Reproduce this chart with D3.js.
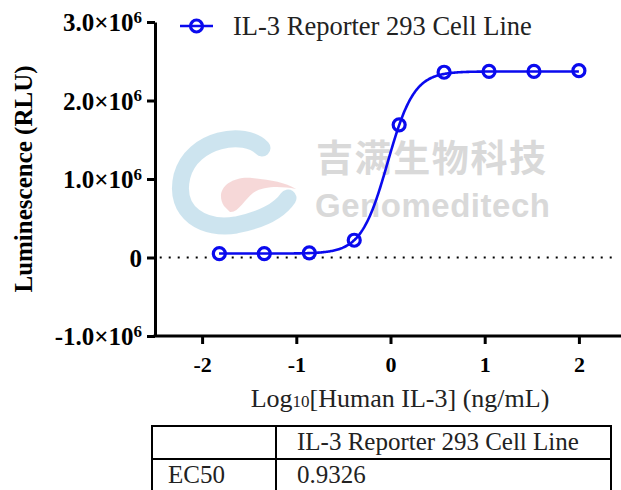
<!DOCTYPE html>
<html>
<head>
<meta charset="utf-8">
<script src="https://cdn.jsdelivr.net/npm/d3@7"></script>
<style>
  body { margin: 0; background: #fff; }
  svg { display: block; }
</style>
</head>
<body>
<div id="chart"></div>
<script>
// data (3-fold dilution series, log10 ng/mL)
var logConc = [-1.817, -1.340, -0.862, -0.385, 0.092, 0.569, 1.046, 1.523, 2.000];
var rlu = [0.05e6, 0.05e6, 0.06e6, 0.22e6, 1.69e6, 2.36e6, 2.37e6, 2.37e6, 2.38e6];
var seriesName = "IL-3 Reporter 293 Cell Line";

// 4PL fit parameters (EC50 from the table)
var fitBottom = 0.05e6;
var fitTop = 2.37e6;
var fitEC50 = 0.9326;
var fitHill = 3.1;

var xTicks = [-2, -1, 0, 1, 2];
var yTicks = [-1e6, 0, 1e6, 2e6, 3e6];
var yTickBase = ["-1.0×10", "0", "1.0×10", "2.0×10", "3.0×10"];

var tableHeader = ["", seriesName];
var tableRows = [["EC50", "0.9326"]];

var W = 621, H = 490;
var blue = "#0a0aee";
var serif = "Liberation Serif, Tinos, Times New Roman, Times, DejaVu Serif, serif";

var svg = d3.select("#chart").append("svg")
  .attr("width", W)
  .attr("height", H);

var x = d3.scaleLinear().domain([-2.5, 2.5]).range([155, 626]);
var y = d3.scaleLinear().domain([-1e6, 3e6]).range([336, 22]);

// watermark
var wm = svg.append("g").attr("opacity", 0.5);
wm.append("path")
  .attr("d", "M262,148 C245,130 192,138 182,176 C173,214 205,230 236,225 C262,220 280,210 288,198")
  .attr("fill", "none")
  .attr("stroke", "#9ccbe0")
  .attr("stroke-width", 17)
  .attr("stroke-linecap", "round");
wm.append("path")
  .attr("d", "M224,206 C214,190 230,176 252,178 C270,180 285,182 296,189 C280,186 263,186 253,193 C245,199 238,213 230,212 Z")
  .attr("fill", "#eeb3b3");
wm.append("text")
  .attr("x", 316).attr("y", 172)
  .attr("textLength", 230)
  .attr("font-family", "Noto Sans CJK SC, sans-serif")
  .attr("font-weight", "bold")
  .attr("font-size", 37)
  .attr("fill", "#b4b4b4")
  .text("吉满生物科技");
wm.append("text")
  .attr("x", 315).attr("y", 217)
  .attr("textLength", 235)
  .attr("font-family", "Liberation Sans, Arial, sans-serif")
  .attr("font-weight", "bold")
  .attr("font-size", 33)
  .attr("fill", "#b4b4b4")
  .text("Genomeditech");

// dotted zero line
svg.append("line")
  .attr("x1", x(-2.45)).attr("x2", x(2.4))
  .attr("y1", y(0)).attr("y2", y(0))
  .attr("stroke", "#000")
  .attr("stroke-width", 2.2)
  .attr("stroke-dasharray", "2,7");

// axes
var xAxis = svg.append("g")
  .attr("transform", "translate(0," + y(-1e6) + ")")
  .call(d3.axisBottom(x).tickValues(xTicks).tickSize(8).tickSizeOuter(0)
    .tickFormat(function(d) { return String(d); }));
var yAxis = svg.append("g")
  .attr("transform", "translate(" + x(-2.5) + ",0)")
  .call(d3.axisLeft(y).tickValues(yTicks).tickSize(8).tickSizeOuter(0).tickFormat(""));

[xAxis, yAxis].forEach(function(g) {
  g.select(".domain").attr("stroke-width", 3).attr("stroke", "#000");
  g.selectAll(".tick line").attr("stroke-width", 3).attr("stroke", "#000");
});
xAxis.select(".domain").attr("d", "M" + (x(-2.5) - 1.5) + ",0H" + W);
xAxis.selectAll(".tick text")
  .attr("font-family", serif)
  .attr("font-weight", "bold")
  .attr("font-size", 22)
  .attr("fill", "#000")
  .attr("y", 20)
  .attr("dy", "0.71em");

var yLab = yAxis.selectAll(".tick").append("text")
  .attr("x", -13)
  .attr("dy", "0.35em")
  .attr("text-anchor", "end")
  .attr("font-family", serif)
  .attr("font-weight", "bold")
  .attr("font-size", 25)
  .attr("fill", "#000");
yLab.each(function(d, i) {
  var t = d3.select(this);
  t.append("tspan").text(yTickBase[i]);
  if (d !== 0) {
    t.append("tspan").attr("dy", "-0.5em").attr("font-size", 17).text("6");
  }
});

// axis titles
svg.append("text")
  .attr("transform", "translate(32," + y(1e6) + ") rotate(-90)")
  .attr("text-anchor", "middle")
  .attr("font-family", serif)
  .attr("font-weight", "bold")
  .attr("font-size", 25)
  .text("Luminescence (RLU)");

var xt = svg.append("text")
  .attr("x", 400).attr("y", 407)
  .attr("text-anchor", "middle")
  .attr("font-family", serif)
  .attr("font-size", 26)
  .attr("fill", "#222");
xt.append("tspan").text("Log");
xt.append("tspan").attr("font-size", 17).text("10");
xt.append("tspan").text("[Human IL-3] (ng/mL)");

// fitted curve
var fitX = d3.range(-1.82, 2.001, 0.01);
var logEC = Math.log10(fitEC50);
var fit = fitX.map(function(v) {
  return [v, fitBottom + (fitTop - fitBottom) / (1 + Math.pow(10, (logEC - v) * fitHill))];
});
svg.append("path")
  .datum(fit)
  .attr("fill", "none")
  .attr("stroke", blue)
  .attr("stroke-width", 2.6)
  .attr("d", d3.line().x(function(d) { return x(d[0]); }).y(function(d) { return y(d[1]); }));

// points
svg.selectAll("circle.pt")
  .data(logConc)
  .enter().append("circle")
  .attr("class", "pt")
  .attr("cx", function(d) { return x(d); })
  .attr("cy", function(d, i) { return y(rlu[i]); })
  .attr("r", 6)
  .attr("fill", "none")
  .attr("stroke", blue)
  .attr("stroke-width", 3.2);

// legend
var leg = svg.append("g").attr("transform", "translate(180,26)");
leg.append("line").attr("x1", 0).attr("x2", 33).attr("stroke", blue).attr("stroke-width", 2.6);
leg.append("circle").attr("cx", 16.5).attr("r", 6).attr("fill", "none").attr("stroke", blue).attr("stroke-width", 3.2);
leg.append("text")
  .attr("x", 53).attr("dy", "0.35em")
  .attr("font-family", serif)
  .attr("font-size", 26.5)
  .attr("fill", "#222")
  .text(seriesName);

// table
var colX = [152, 276, 611];
var rowY = [426, 459, 500];
var tbl = svg.append("g");
tbl.append("rect")
  .attr("x", colX[0]).attr("y", rowY[0])
  .attr("width", colX[2] - colX[0]).attr("height", rowY[2] - rowY[0])
  .attr("fill", "none").attr("stroke", "#000").attr("stroke-width", 2);
tbl.append("line").attr("x1", colX[1]).attr("x2", colX[1]).attr("y1", rowY[0]).attr("y2", rowY[2])
  .attr("stroke", "#000").attr("stroke-width", 2);
tbl.append("line").attr("x1", colX[0]).attr("x2", colX[2]).attr("y1", rowY[1]).attr("y2", rowY[1])
  .attr("stroke", "#000").attr("stroke-width", 2);
[tableHeader].concat(tableRows).forEach(function(row, r) {
  row.forEach(function(cell, c) {
    tbl.append("text")
      .attr("x", colX[c] + (c === 0 ? 16 : 21))
      .attr("y", r === 0 ? 450 : 483)
      .attr("font-family", serif)
      .attr("font-size", 25)
      .attr("fill", "#222")
      .text(cell);
  });
});
</script>
</body>
</html>
